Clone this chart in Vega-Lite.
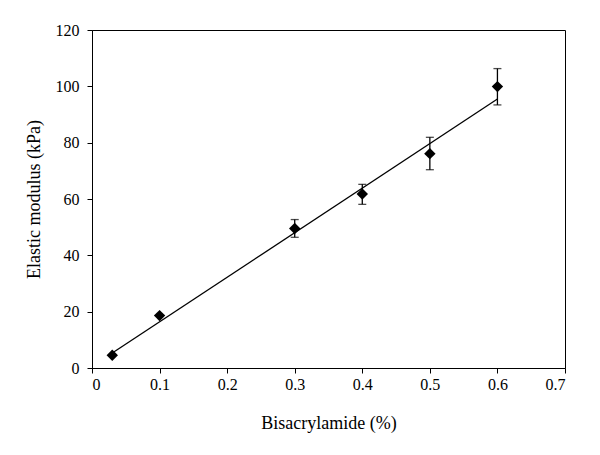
{
  "$schema": "https://vega.github.io/schema/vega-lite/v6.json",
  "width": 473,
  "height": 338,
  "autosize": {"type": "none"},
  "padding": {"left": 92, "top": 30, "right": 35, "bottom": 87},
  "background": "white",
  "config": {
    "font": "Liberation Serif",
    "view": {"stroke": "black", "strokeWidth": 1},
    "axis": {
      "grid": false,
      "domainColor": "black",
      "tickColor": "black",
      "tickSize": 5,
      "labelColor": "black",
      "titleColor": "black",
      "labelFont": "Liberation Serif",
      "titleFont": "Liberation Serif",
      "labelFontSize": 16,
      "titleFontSize": 18,
      "titleFontWeight": "normal"
    }
  },
  "datasets": {
    "pts": [
      {"x": 0.03, "y": 4.5, "lo": null, "hi": null},
      {"x": 0.1, "y": 18.6, "lo": null, "hi": null},
      {"x": 0.3, "y": 49.5, "lo": 46.4, "hi": 52.7},
      {"x": 0.4, "y": 61.8, "lo": 58.1, "hi": 65.2},
      {"x": 0.5, "y": 76.1, "lo": 70.4, "hi": 81.9},
      {"x": 0.6, "y": 99.9, "lo": 93.4, "hi": 106.3}
    ],
    "fit": [
      {"x": 0.03, "y": 5.3},
      {"x": 0.6, "y": 95.5}
    ]
  },
  "layer": [
    {
      "data": {"name": "fit"},
      "mark": {"type": "line", "color": "black", "strokeWidth": 1.3},
      "encoding": {
        "x": {"field": "x", "type": "quantitative", "scale": {"domain": [0, 0.7]},
          "axis": {"title": "Bisacrylamide (%)", "values": [0, 0.1, 0.2, 0.3, 0.4, 0.5, 0.6, 0.7], "format": ".1~f", "labelPadding": 3, "titlePadding": 22}},
        "y": {"field": "y", "type": "quantitative", "scale": {"domain": [0, 120]},
          "axis": {"title": "Elastic modulus (kPa)", "values": [0, 20, 40, 60, 80, 100, 120], "labelPadding": 8, "titlePadding": 12}}
      }
    },
    {
      "data": {"name": "pts"},
      "transform": [{"filter": "datum.lo != null"}],
      "mark": {"type": "rule", "color": "black", "strokeWidth": 1.3},
      "encoding": {
        "x": {"field": "x", "type": "quantitative"},
        "y": {"field": "lo", "type": "quantitative"},
        "y2": {"field": "hi"}
      }
    },
    {
      "data": {"name": "pts"},
      "transform": [{"filter": "datum.lo != null"}],
      "mark": {"type": "tick", "orient": "horizontal", "color": "black", "size": 8, "thickness": 1.3},
      "encoding": {
        "x": {"field": "x", "type": "quantitative"},
        "y": {"field": "lo", "type": "quantitative"}
      }
    },
    {
      "data": {"name": "pts"},
      "transform": [{"filter": "datum.lo != null"}],
      "mark": {"type": "tick", "orient": "horizontal", "color": "black", "size": 8, "thickness": 1.3},
      "encoding": {
        "x": {"field": "x", "type": "quantitative"},
        "y": {"field": "hi", "type": "quantitative"}
      }
    },
    {
      "data": {"name": "pts"},
      "mark": {"type": "point", "shape": "diamond", "filled": true, "color": "black", "opacity": 1, "size": 130},
      "encoding": {
        "x": {"field": "x", "type": "quantitative"},
        "y": {"field": "y", "type": "quantitative"}
      }
    }
  ]
}
